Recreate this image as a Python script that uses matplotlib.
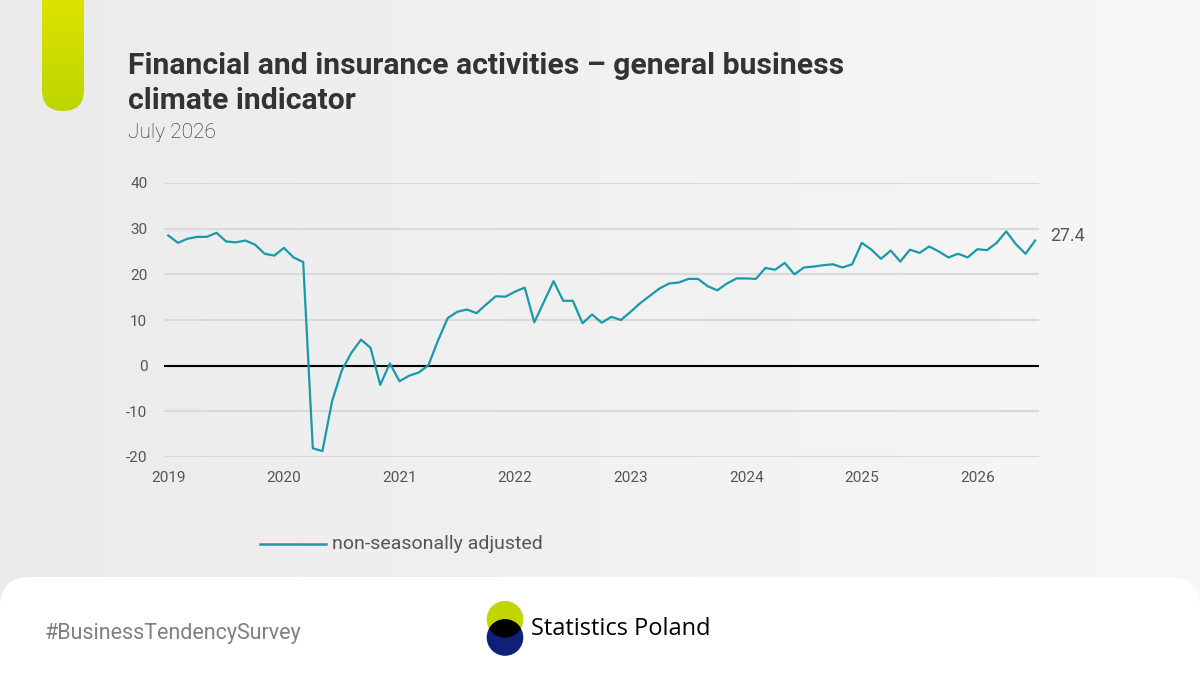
import numpy as np
import matplotlib
matplotlib.use("Agg")
import matplotlib.pyplot as plt
from matplotlib.patches import FancyBboxPatch, Circle
from matplotlib.colors import LinearSegmentedColormap

# ---------------- data ----------------
title = "Financial and insurance activities \u2013 general business\nclimate indicator"
subtitle = "July 2026"
series_label = "non-seasonally adjusted"
year_labels = ["2019", "2020", "2021", "2022", "2023", "2024", "2025", "2026"]
# monthly values Jan 2019 .. Jul 2026
values = [
    28.5, 26.9, 27.8, 28.2, 28.2, 29.1, 27.2, 27.0, 27.4, 26.5, 24.5, 24.1,   # 2019
    25.8, 23.7, 22.7, -18.1, -18.7, -7.8, -1.1, 2.8, 5.7, 3.9, -4.2, 0.5,    # 2020
    -3.4, -2.2, -1.5, 0.1, 5.5, 10.4, 11.8, 12.3, 11.5, 13.4, 15.2, 15.1,    # 2021
    16.2, 17.1, 9.5, 14.0, 18.5, 14.2, 14.2, 9.3, 11.2, 9.4, 10.7, 10.0,     # 2022
    11.8, 13.7, 15.3, 16.9, 18.0, 18.2, 19.0, 19.0, 17.4, 16.5, 18.0, 19.1,  # 2023
    19.1, 19.0, 21.4, 21.0, 22.5, 20.0, 21.5, 21.7, 22.0, 22.2, 21.5, 22.2,  # 2024
    26.9, 25.4, 23.4, 25.2, 22.8, 25.4, 24.7, 26.1, 25.0, 23.7, 24.5, 23.7,  # 2025
    25.5, 25.3, 26.9, 29.4, 26.6, 24.5, 27.4,                                # 2026
]
last_label = "27.4"
y_ticks = [-20, -10, 0, 10, 20, 30, 40]
hashtag = "#BusinessTendencySurvey"
brand = "Statistics Poland"

# ---------------- style ----------------
W, H = 1200, 675
FONT = "Roboto"
TEAL = "#1a9aa8"
GREY_TXT = "#555555"
DARK = "#333333"

fig = plt.figure(figsize=(W / 100, H / 100), dpi=100)

# decoration axes in pixel coordinates
deco = fig.add_axes([0, 0, 1, 1], zorder=0)
deco.set_xlim(0, W)
deco.set_ylim(H, 0)
deco.axis("off")

# background gradient
bg = LinearSegmentedColormap.from_list("bg", ["#ebebeb", "#f7f7f7"])
deco.imshow(np.linspace(0, 1, 256)[None, :], cmap=bg, aspect="auto",
            extent=[0, W, H, 0], zorder=0)

# green pill
pill = FancyBboxPatch((42, -40), 42, 151, boxstyle="round,pad=0,rounding_size=21",
                      facecolor="none", edgecolor="none")
deco.add_patch(pill)
pg = LinearSegmentedColormap.from_list("pg", ["#dde200", "#bcd600"])
im = deco.imshow(np.linspace(0, 1, 256)[:, None], cmap=pg, aspect="auto",
                 extent=[42, 84, 111, 0], zorder=1)
im.set_clip_path(pill)

# white footer panel
panel = FancyBboxPatch((0, 577), W, 200, boxstyle="round,pad=0,rounding_size=30",
                       facecolor="white", edgecolor="none", zorder=1)
deco.add_patch(panel)

# logo
green = Circle((505, 619.3), 18.3, facecolor="#c3d500", edgecolor="none", zorder=2)
blue = Circle((505, 637.5), 18.3, facecolor="#0f2079", edgecolor="none", zorder=2)
deco.add_patch(green)
deco.add_patch(blue)
lens = Circle((505, 637.5), 18.3, facecolor="black", edgecolor="none", zorder=3)
deco.add_patch(lens)
lens.set_clip_path(green)

deco.text(531, 629, brand, fontsize=17, family="Open Sans", color="black",
          va="center", ha="left", zorder=4)
deco.text(45, 633, hashtag, fontsize=15.5, family=FONT, color="#808080",
          va="center", ha="left", zorder=4)

# titles
deco.text(128, 109, title, fontsize=21.7, family=FONT, weight="bold", color=DARK,
          va="baseline", ha="left", linespacing=1.32, zorder=4)
deco.text(128, 138, subtitle, fontsize=15, family=FONT, weight="light", color="#222222",
          va="baseline", ha="left", zorder=4)

# ---------------- main chart ----------------
ax = fig.add_axes([164 / W, (H - 457) / H, 875 / W, 274 / H], zorder=2)
ax.patch.set_alpha(0)
x = np.arange(len(values))
ax.set_xlim(-0.45, 90.4)
ax.set_ylim(-20, 40)
ax.set_yticks(y_ticks)
ax.set_yticklabels([str(v) for v in y_ticks])
ax.set_xticks(np.arange(len(year_labels)) * 12)
ax.set_xticklabels(year_labels)
for s in ax.spines.values():
    s.set_visible(False)
ax.tick_params(length=0, labelsize=11, labelcolor=GREY_TXT)
ax.tick_params(axis="y", pad=12)
ax.tick_params(axis="x", pad=10)
for lab in ax.get_xticklabels() + ax.get_yticklabels():
    lab.set_family(FONT)
ax.yaxis.grid(True, color="#d9d9d9", linewidth=1.5)
ax.set_axisbelow(True)
ax.axhline(0, color="black", linewidth=1.5, zorder=2)
ax.plot(x, values, color=TEAL, linewidth=1.6, zorder=3, clip_on=False)
ax.annotate(last_label, xy=(x[-1], values[-1]), xytext=(11, 3),
            textcoords="offset points", fontsize=12.8, family=FONT,
            color=GREY_TXT, va="center", ha="left")

# legend
deco.plot([260, 326], [544.3, 544.3], color=TEAL, linewidth=1.8, zorder=4)
deco.text(332, 544, series_label, fontsize=14, family=FONT, color=GREY_TXT,
          va="center", ha="left", zorder=4)

fig.savefig("out.png", dpi=100)
